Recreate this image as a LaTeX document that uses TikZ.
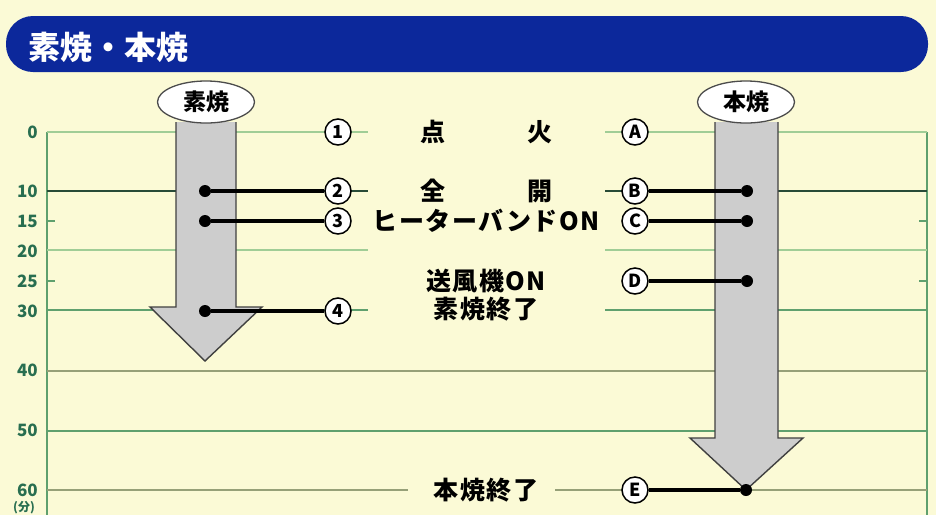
\documentclass[tikz,border=0pt]{standalone}
\usepackage{fontspec}
\setmainfont{Noto Sans CJK JP}
\newfontfamily\stagefont[LetterSpace=6]{Noto Sans CJK JP}
\usetikzlibrary{positioning,shapes.geometric}

\definecolor{paper}{RGB}{251,250,214}
\definecolor{titleblue}{RGB}{12,40,155}
\definecolor{lightgreen}{RGB}{160,205,150}
\definecolor{midgreen}{RGB}{95,160,110}
\definecolor{darkgreen}{RGB}{40,75,55}
\definecolor{olive}{RGB}{150,160,120}
\definecolor{axisgreen}{RGB}{40,110,80}
\definecolor{arrowgray}{RGB}{205,205,205}

\begin{document}
\begin{tikzpicture}[
x=1pt, y=-1pt,
gline/.style={draw=lightgreen, line width=1.3pt},
bigarrow/.style={fill=arrowgray, draw=black!75, line width=1.4pt},
oval/.style={ellipse, draw=black!70, fill=white, line width=1.3pt, minimum width=97pt, minimum height=42pt, inner sep=0pt, font=\fontsize{23}{25}\selectfont\bfseries},
badge/.style={circle, draw, fill=white, line width=1.5pt, minimum size=26pt, inner sep=0pt, font=\fontsize{18}{19}\selectfont\bfseries},
dotnode/.style={circle, fill=black, minimum size=12pt, inner sep=0pt},
link/.style={draw=black, line width=3.5pt},
stagetext/.style={font=\stagefont\fontsize{25}{27}\selectfont\bfseries, inner sep=0pt},
ticktext/.style={anchor=east, text=axisgreen, font=\fontsize{17}{18}\selectfont\bfseries, inner sep=0pt}
]

% paper and title bar
\fill[paper] (0,0) rectangle (936,515);
\useasboundingbox (0,0) rectangle (936,515);
\fill[titleblue, rounded corners=27pt] (6,16) rectangle (928,72);
\node[anchor=west, text=white, font=\fontsize{32}{34}\selectfont\bfseries] (title) at (25,47) {素焼・本焼};

% time axis
\foreach \m in {0,10,15,20,25,30,40,50,60}
  \node[ticktext] (t\m) at (38,{132+5.97*\m}) {\m};
\node[ticktext, anchor=south, font=\fontsize{12}{13}\selectfont\bfseries] (unit) at (24,514) {(分)};
\draw[gline, draw=midgreen] (47,132) -- (47,515);
\draw[gline, draw=midgreen] (927,132) -- (927,515);

% grid lines
\draw[gline] (47,132) -- (368,132) (605,132) -- (927,132);
\draw[gline, draw=darkgreen] (47,191) -- (368,191) (605,191) -- (927,191);
\draw[gline] (47,250) -- (368,250) (605,250) -- (927,250);
\draw[gline, draw=midgreen] (47,310) -- (368,310) (605,310) -- (927,310);
\draw[gline, draw=olive, line width=2pt] (47,371) -- (927,371);
\draw[gline, draw=midgreen, line width=2pt] (47,431) -- (927,431);
\draw[gline, draw=olive, line width=2pt] (47,490) -- (408,490) (555,490) -- (927,490);
\foreach \yy in {221,281}
  \draw[gline, draw=midgreen] (47,\yy) -- (55,\yy) (919,\yy) -- (927,\yy);

% the two firing arrows
\filldraw[bigarrow] (176,122) -- (176,307) -- (150,307) -- (205,361) -- (262,307) -- (236,307) -- (236,122);
\filldraw[bigarrow] (715,122) -- (715,438) -- (690,438) -- (746,490) -- (803,438) -- (778,438) -- (778,122);
\node[oval] (sb) at (206,102) {素焼};
\node[oval] (hb) at (746,102) {本焼};

% steps
\node[badge] (n1) at (338,132) {1};
\node[badge] (n2) at (338,191) {2};
\node[badge] (n3) at (338,221) {3};
\node[badge] (n4) at (338,311) {4};
\node[badge] (nA) at (635,132) {A};
\node[badge] (nB) at (635,191) {B};
\node[badge] (nC) at (635,221) {C};
\node[badge] (nD) at (635,281) {D};
\node[badge] (nE) at (635,490) {E};

\node[dotnode] (s2) at (205,191) {};
\node[dotnode] (s3) at (205,221) {};
\node[dotnode] (s4) at (205,311) {};
\node[dotnode] (h2) at (747,191) {};
\node[dotnode] (h3) at (747,221) {};
\node[dotnode] (h4) at (747,281) {};
\node[dotnode] (h5) at (746,490) {};

\draw[link] (s2) -- (n2);
\draw[link] (s3) -- (n3);
\draw[link] (s4) -- (n4);
\draw[link] (nB) -- (h2);
\draw[link] (nC) -- (h3);
\draw[link] (nD) -- (h4);
\draw[link] (nE) -- (h5);

% step texts
\node[stagetext] (fire) at (486,132) {点\hspace{82pt}火};
\node[stagetext] (open) at (486,191) {全\hspace{82pt}開};
\node[stagetext] (heater) at (486,221) {ヒーターバンドON};
\node[stagetext] (fan) at (486,281) {送風機ON};
\node[stagetext] (sbend) at (486,309) {素焼終了};
\node[stagetext] (hbend) at (486,490) {本焼終了};

\end{tikzpicture}
\end{document}
